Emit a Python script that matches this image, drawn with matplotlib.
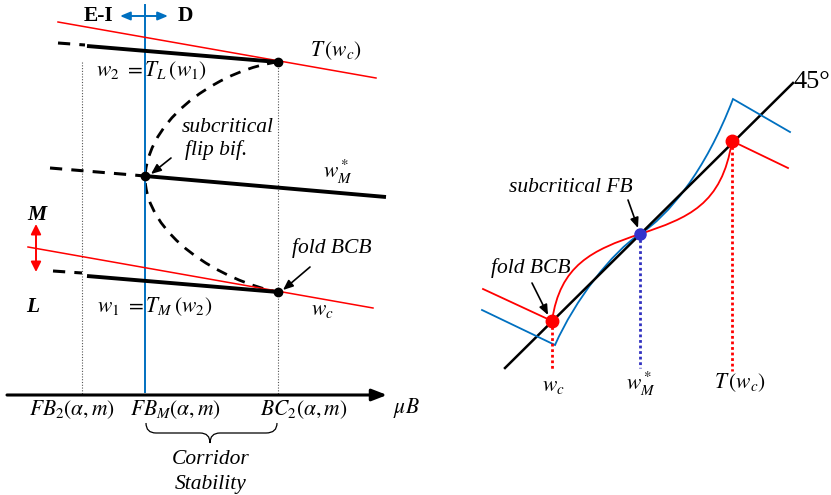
import matplotlib.pyplot as plt
from matplotlib.path import Path
from matplotlib.patches import PathPatch

plt.rcParams['mathtext.fontset'] = 'stix'
plt.rcParams['font.family'] = ['Liberation Serif', 'DejaVu Serif']

# ---- left panel: bifurcation diagram (pixel coords of the sketch) ----
axis_y = 395
axis_x = [7, 387]
dotted_x = [82, 278]
dotted_top = 62
blue_x = 145
blue_y = [5, 392]

red_top_x, red_top_y = [58, 376], [22, 78]
red_low_x, red_low_y = [28, 373], [247, 308]

upper_dash_x, upper_dash_y = [58, 85], [43, 45]
upper_solid_x, upper_solid_y = [87, 278], [46, 62]
mid_dash_x, mid_dash_y = [50, 145], [168, 176]
mid_solid_x, mid_solid_y = [145, 386], [176, 197]
lower_dash_x, lower_dash_y = [53, 82], [271, 273]
lower_solid_x, lower_solid_y = [87, 278], [276, 292]

# unstable branch (dashed half loop), bezier control points
loop_upper = [(278, 62), (228, 68), (150, 112), (145, 176)]
loop_lower = [(145, 176), (145, 236), (222, 281), (278, 292)]

dots_x = [278, 145, 278]
dots_y = [62, 176, 292]

# ---- right panel: map sketch ----
diag_x, diag_y = [505, 793], [368, 83]
blue_map = [(482, 310), (555, 345), (575, 300), (612, 252), (640, 234),
            (668, 216), (705, 172), (733, 99), (790, 132)]
red_map = [(483, 289), (552, 321), (560, 265), (592, 250), (640, 234),
           (688, 218), (722, 205), (732, 141), (788, 168)]
red_pts_x, red_pts_y = [552, 732], [321, 141]
fp_x, fp_y = 640, 234
map_base = 371

BLUE = '#0070C0'
RED = '#FF0000'

fig = plt.figure(figsize=(8.31, 4.95), dpi=100)
ax = fig.add_axes([0, 0, 1, 1])
ax.set_xlim(0, 831)
ax.set_ylim(495, 0)
ax.axis('off')

# horizontal axis
ax.annotate('', xy=(axis_x[1], axis_y), xytext=(axis_x[0], axis_y),
            arrowprops=dict(arrowstyle='-|>,head_length=0.9,head_width=0.35',
                            color='k', lw=2.2, shrinkA=0, shrinkB=0))
for x in dotted_x:
    ax.plot([x, x], [dotted_top, axis_y], color='#555555', lw=0.8, ls=(0, (1, 1.5)))
ax.plot([blue_x, blue_x], blue_y, color=BLUE, lw=1.4)

ax.plot(red_top_x, red_top_y, color=RED, lw=1.1)
ax.plot(red_low_x, red_low_y, color=RED, lw=1.1)

for xs, ys in [(upper_dash_x, upper_dash_y), (mid_dash_x, mid_dash_y),
               (lower_dash_x, lower_dash_y)]:
    ax.plot(xs, ys, color='k', lw=2.2, ls=(0, (4, 3)))
for xs, ys in [(upper_solid_x, upper_solid_y), (mid_solid_x, mid_solid_y),
               (lower_solid_x, lower_solid_y)]:
    ax.plot(xs, ys, color='k', lw=2.8, solid_capstyle='butt')

loop = Path(loop_upper + loop_lower[1:],
            [Path.MOVETO] + [Path.CURVE4] * 6)
ax.add_patch(PathPatch(loop, fill=False, color='k', lw=2.0, ls=(0, (4, 3))))
ax.plot(dots_x, dots_y, 'o', color='k', ms=6)

fs = 15.5

# E-I / D arrow
ax.annotate('', xy=(168, 16), xytext=(120, 16),
            arrowprops=dict(arrowstyle='<|-|>,head_length=0.6,head_width=0.25',
                            color=BLUE, lw=1.4, shrinkA=0, shrinkB=0))
ax.text(99, 16, 'E-I', fontsize=fs, fontweight='bold', ha='center', va='center')
ax.text(185, 16, 'D', fontsize=fs, fontweight='bold', ha='center', va='center')

# M / L arrow
ax.annotate('', xy=(36, 272), xytext=(36, 224),
            arrowprops=dict(arrowstyle='<|-|>,head_length=0.6,head_width=0.3',
                            color=RED, lw=1.4, shrinkA=0, shrinkB=0))
ax.text(37, 215, 'M', fontsize=fs, fontweight='bold', style='italic', ha='center', va='center')
ax.text(33, 307, 'L', fontsize=fs, fontweight='bold', style='italic', ha='center', va='center')

ax.text(336, 51, r'$T\,(w_c)$', fontsize=fs, ha='center', va='center')
ax.text(152, 71, r'$w_2\ =T_L\,(w_1)$', fontsize=fs, ha='center', va='center')
ax.text(338, 172, r'$w_M^*$', fontsize=fs, ha='center', va='center')
ax.text(228, 127, 'subcritical', fontsize=fs, style='italic', ha='center', va='center')
ax.text(216, 150, 'flip bif.', fontsize=fs, style='italic', ha='center', va='center')
ax.annotate('', xy=(151, 174), xytext=(171, 158),
            arrowprops=dict(arrowstyle='-|>,head_length=0.6,head_width=0.25',
                            color='k', lw=1.2, shrinkA=0, shrinkB=0))
ax.text(332, 248, 'fold BCB', fontsize=fs, style='italic', ha='center', va='center')
ax.annotate('', xy=(283, 290), xytext=(310, 267),
            arrowprops=dict(arrowstyle='-|>,head_length=0.6,head_width=0.25',
                            color='k', lw=1.2, shrinkA=0, shrinkB=0))
ax.text(322, 311, r'$w_c$', fontsize=fs, ha='center', va='center')
ax.text(155, 307, r'$w_1\ =T_M\,(w_2)$', fontsize=fs, ha='center', va='center')

ax.text(72, 410, r'$FB_2(\alpha,m)$', fontsize=fs, ha='center', va='center')
ax.text(175, 410, r'$FB_M(\alpha,m)$', fontsize=fs, ha='center', va='center')
ax.text(304, 410, r'$BC_2(\alpha,m)$', fontsize=fs, ha='center', va='center')
ax.text(406, 408, r'$\mu B$', fontsize=fs, ha='center', va='center')

brace = Path([(146, 423), (146, 433), (156, 433), (200, 433), (210, 433), (210, 443),
              (210, 433), (220, 433), (266, 433), (277, 433), (277, 423)],
             [Path.MOVETO, Path.CURVE3, Path.CURVE3, Path.LINETO, Path.CURVE3, Path.CURVE3,
              Path.CURVE3, Path.CURVE3, Path.LINETO, Path.CURVE3, Path.CURVE3])
ax.add_patch(PathPatch(brace, fill=False, color='k', lw=0.9))
ax.text(211, 460, 'Corridor', fontsize=fs, style='italic', ha='center', va='center')
ax.text(211, 485, 'Stability', fontsize=fs, style='italic', ha='center', va='center')

# right panel
ax.plot(diag_x, diag_y, color='k', lw=1.8)
ax.text(812, 82, r'45°', fontsize=19, ha='center', va='center')

ax.plot([p[0] for p in blue_map[:2]], [p[1] for p in blue_map[:2]], color=BLUE, lw=1.3)
ax.plot([p[0] for p in blue_map[-2:]], [p[1] for p in blue_map[-2:]], color=BLUE, lw=1.3)
ax.add_patch(PathPatch(Path(blue_map[1:8], [Path.MOVETO] + [Path.CURVE4] * 6),
                       fill=False, color=BLUE, lw=1.3))
ax.plot([p[0] for p in red_map[:2]], [p[1] for p in red_map[:2]], color=RED, lw=1.3)
ax.plot([p[0] for p in red_map[-2:]], [p[1] for p in red_map[-2:]], color=RED, lw=1.3)
ax.add_patch(PathPatch(Path(red_map[1:8], [Path.MOVETO] + [Path.CURVE4] * 6),
                       fill=False, color=RED, lw=1.3))

for x, y in zip(red_pts_x, red_pts_y):
    ax.plot([x, x], [y, map_base], color=RED, lw=2, ls=(0, (1, 1)))
ax.plot([fp_x, fp_x], [fp_y, map_base - 3], color='#3030C0', lw=2, ls=(0, (1, 1)))
ax.plot(red_pts_x, red_pts_y, 'o', color=RED, ms=9, zorder=5)
ax.plot([fp_x], [fp_y], 'o', color='#3333CC', ms=8, zorder=5)

ax.text(553, 387, r'$w_c$', fontsize=fs, ha='center', va='center')
ax.text(641, 384, r'$w_M^*$', fontsize=fs, ha='center', va='center')
ax.text(740, 383, r'$T\,(w_c)$', fontsize=fs, ha='center', va='center')
ax.text(571, 187, 'subcritical FB', fontsize=fs, style='italic', ha='center', va='center')
ax.annotate('', xy=(638, 228), xytext=(628, 200),
            arrowprops=dict(arrowstyle='-|>,head_length=0.6,head_width=0.25',
                            color='k', lw=1.2, shrinkA=0, shrinkB=0))
ax.text(531, 268, 'fold BCB', fontsize=fs, style='italic', ha='center', va='center')
ax.annotate('', xy=(548, 315), xytext=(532, 283),
            arrowprops=dict(arrowstyle='-|>,head_length=0.6,head_width=0.25',
                            color='k', lw=1.2, shrinkA=0, shrinkB=0))

fig.savefig('out.png', dpi=100)
